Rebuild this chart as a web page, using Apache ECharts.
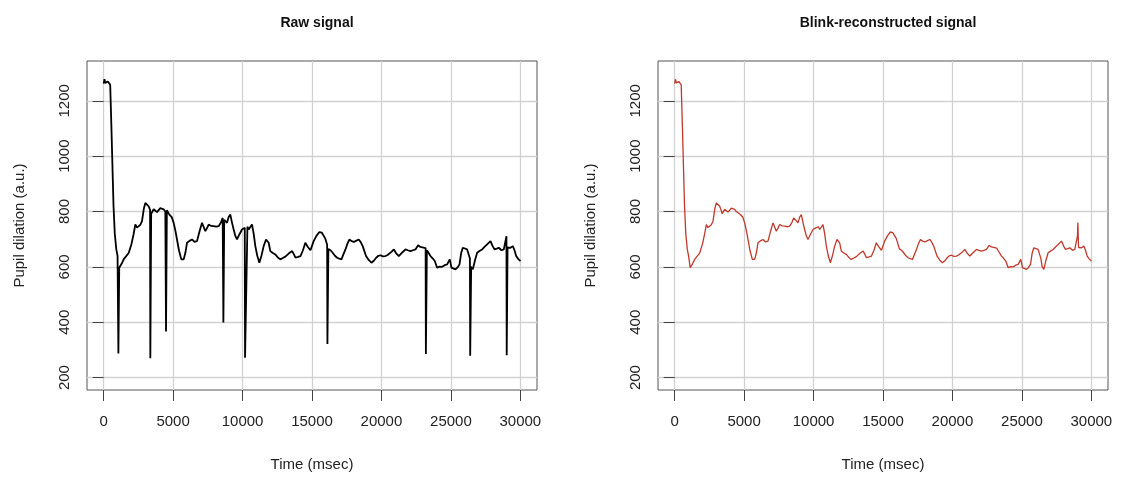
<!DOCTYPE html>
<html>
<head>
<meta charset="utf-8">
<script src="https://cdn.jsdelivr.net/npm/echarts@6/dist/echarts.min.js"></script>
<style>
  html, body { margin: 0; padding: 0; background: #fff; }
  #chart { width: 1126px; height: 477px; }
</style>
</head>
<body>
<div id="chart"></div>
<script>
// pupil trace (msec, a.u.)
const sampleTime = [0, 60, 120, 180, 240, 300, 360, 420, 470, 560, 640, 710, 800, 910, 1000,
  1120, 1300, 1450, 1560, 1800, 2000, 2150, 2280, 2400, 2520, 2640, 2760, 2900, 3000, 3120, 3240, 3340,
  3420, 3480, 3600, 3720, 3840, 3960, 4080, 4200, 4320, 4440, 4550, 4730, 4900, 5040, 5160, 5280, 5420,
  5590, 5760, 5880, 6000, 6180, 6360, 6540, 6720, 6900, 7080, 7200, 7320, 7440, 7560, 7740, 7920, 8100,
  8280, 8440, 8570, 8680, 8880, 9000, 9120, 9240, 9360, 9480, 9600, 9780, 9960, 10160, 10350, 10440,
  10560, 10680, 10800, 10920, 11060, 11210, 11360, 11520, 11690, 11880, 12000, 12180, 12360, 12540,
  12720, 12900, 13080, 13320, 13570, 13700, 13810, 14000, 14170, 14350, 14520, 14700, 14890, 15120,
  15320, 15530, 15700, 15840, 15960, 16090, 16180, 16330, 16490, 16650, 16810, 16960, 17120, 17260,
  17410, 17560, 17700, 17850, 18010, 18200, 18370, 18500, 18650, 18890, 19080, 19280, 19450, 19620,
  19780, 19930, 20100, 20290, 20440, 20580, 20740, 20890, 21050, 21250, 21500, 21730, 21900, 22090,
  22270, 22450, 22640, 22800, 22930, 23180, 23270, 23400, 23530, 23700, 23840, 24010, 24200, 24370,
  24550, 24730, 24920, 25040, 25180, 25330, 25480, 25620, 25740, 25860, 26000, 26170, 26370, 26460,
  26580, 26740, 26890, 27060, 27250, 27420, 27610, 27850, 28000, 28140, 28300, 28450, 28640, 28810,
  29000, 29080, 29290, 29460, 29580, 29700, 29860, 30010];
const samplePupil = [1262, 1278, 1265, 1272, 1260, 1270, 1264, 1268, 1258, 1100, 950, 819, 720, 663, 640,
  597, 612, 628, 633, 650, 682, 717, 753, 742, 735, 752, 765, 812, 831, 826, 819, 806,
  792, 789, 808, 814, 798, 800, 812, 815, 808, 800, 805, 789, 780, 759, 732, 699, 660,
  627, 627, 650, 687, 694, 699, 690, 693, 728, 759, 744, 729, 740, 753, 748, 747, 745,
  747, 760, 777, 770, 759, 780, 789, 760, 735, 712, 699, 718, 735, 741, 745, 735,
  742, 753, 720, 675, 640, 615, 640, 675, 699, 687, 657, 650, 645, 634,
  627, 632, 637, 648, 657, 645, 633, 636, 639, 660, 687, 672, 660, 693,
  712, 726, 724, 717, 702, 680, 665, 660, 651, 640, 633, 630, 627, 645,
  663, 685, 699, 693, 690, 695, 699, 690, 675, 639, 625, 615, 622, 633,
  640, 642, 638, 639, 643, 645, 655, 663, 650, 639, 652, 663, 660, 657,
  660, 663, 678, 672, 670, 668, 660, 650, 639, 630, 621, 597, 601, 600,
  606, 609, 627, 597, 594, 591, 598, 609, 650, 669, 668, 663, 630, 600,
  591, 625, 651, 657, 663, 672, 681, 693, 676, 663, 666, 669, 660, 663,
  711, 670, 669, 675, 660, 639, 628, 621];

// blinks in the raw recording: onset, offset (msec) and lowest value
const blinkOnset = [1060, 3360, 4490, 8620, 10180, 16110, 23200, 26390, 29020];
const blinkOffset = [1100, 3400, 4530, 8660, 10290, 16160, 23250, 26440, 29060];
const blinkLow = [287, 270, 366, 399, 272, 321, 285, 279, 281];

// overshoot left by the reconstruction
const reconTime = [29030];
const reconPupil = [760];

const xTicks = [0, 5000, 10000, 15000, 20000, 25000, 30000];
const yTicks = [200, 400, 600, 800, 1000, 1200];

const baseline = sampleTime.map((t, i) => [t, samplePupil[i]]);

function inBlink(t) {
  return blinkOnset.some((on, k) => t >= on && t <= blinkOffset[k]);
}

const rawData = baseline.filter(p => !inBlink(p[0]));
blinkOnset.forEach((on, k) => {
  rawData.push([on, blinkLow[k]]);
  rawData.push([blinkOffset[k], blinkLow[k]]);
});
rawData.sort((a, b) => a[0] - b[0]);

const reconData = baseline.concat(reconTime.map((t, i) => [t, reconPupil[i]]));
reconData.sort((a, b) => a[0] - b[0]);

const font = "'Liberation Sans', Arial, sans-serif";
const chart = echarts.init(document.getElementById('chart'));

function xAxisFor(idx) {
  return {
    type: 'value', gridIndex: idx, min: -1200, max: 31200,
    name: 'Time (msec)', nameLocation: 'middle', nameGap: 67,
    nameTextStyle: { fontFamily: font, fontSize: 15, color: '#222' },
    axisLine: { show: false },
    axisTick: { customValues: xTicks, inside: false, length: 11, lineStyle: { color: '#444', width: 1 } },
    axisLabel: { customValues: xTicks, margin: 24, fontFamily: font, fontSize: 15, color: '#222',
      formatter: v => String(v) },
    splitLine: { show: true, lineStyle: { color: '#d2d2d2', width: 1.3 } }
  };
}

function yAxisFor(idx) {
  return {
    type: 'value', gridIndex: idx, min: 155, max: 1344,
    name: 'Pupil dilation (a.u.)', nameLocation: 'middle', nameGap: 60,
    nameTextStyle: { fontFamily: font, fontSize: 15, color: '#222' },
    axisLine: { show: false },
    axisTick: { customValues: yTicks, inside: false, length: 11, lineStyle: { color: '#444', width: 1 } },
    axisLabel: { customValues: yTicks, rotate: 90, margin: 15, fontFamily: font, fontSize: 15, color: '#222',
      formatter: v => String(v) },
    splitLine: { show: true, lineStyle: { color: '#d2d2d2', width: 1.3 } }
  };
}

const option = {
  animation: false,
  backgroundColor: '#fff',
  title: [
    { text: 'Raw signal', left: 312, top: 11, textAlign: 'center',
      textStyle: { fontFamily: font, fontSize: 14, fontWeight: 'bold', color: '#111' } },
    { text: 'Blink-reconstructed signal', left: 883, top: 11, textAlign: 'center',
      textStyle: { fontFamily: font, fontSize: 14, fontWeight: 'bold', color: '#111' } }
  ],
  grid: [
    { left: 87, top: 61, width: 450, height: 330, show: true, borderColor: '#555', borderWidth: 1, backgroundColor: '#fff' },
    { left: 658, top: 61, width: 450, height: 330, show: true, borderColor: '#555', borderWidth: 1, backgroundColor: '#fff' }
  ],
  xAxis: [xAxisFor(0), xAxisFor(1)],
  yAxis: [yAxisFor(0), yAxisFor(1)],
  series: [
    { name: 'Raw signal', type: 'line', xAxisIndex: 0, yAxisIndex: 0, data: rawData,
      showSymbol: false, lineStyle: { color: '#000', width: 1.8 } },
    { name: 'Blink-reconstructed signal', type: 'line', xAxisIndex: 1, yAxisIndex: 1, data: reconData,
      showSymbol: false, lineStyle: { color: '#c0392b', width: 1.3 } }
  ]
};

chart.setOption(option);
</script>
</body>
</html>
